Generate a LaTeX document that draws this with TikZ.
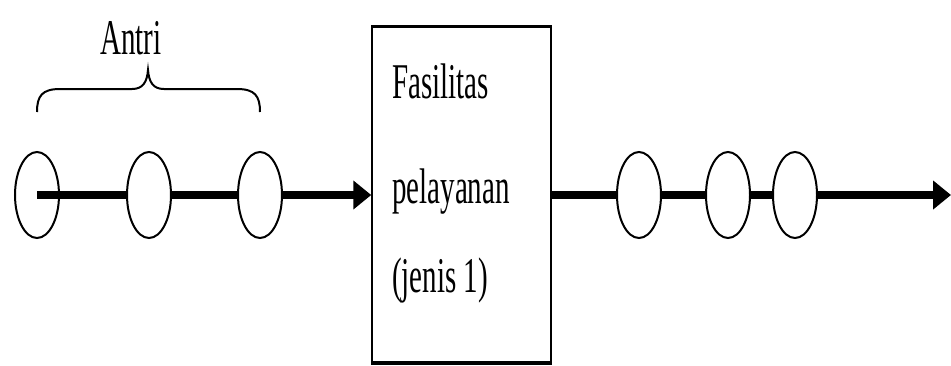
\documentclass[tikz,border=0pt]{standalone}
\usepackage{fontspec}
\setmainfont{Liberation Serif}
\usetikzlibrary{shapes.geometric,arrows.meta}
\tikzset{
  bead/.style={ellipse, draw=black, line width=2pt, fill=white, minimum width=44pt, minimum height=86pt, inner sep=0pt},
  flow/.style={line width=8pt, black},
  tip/.style={-{Triangle[length=18pt,width=28pt]}},
  lbl/.style={anchor=base west, inner sep=0pt, font=\fontsize{50}{50}\selectfont},
}
\newcommand{\sq}[1]{\scalebox{0.58}[1]{#1}}
\begin{document}
\begin{tikzpicture}[x=1pt,y=-1pt]
\useasboundingbox (0,0) rectangle (951,365);
% box
\node[draw=black, line width=1.5pt, minimum width=179pt, minimum height=335pt, inner sep=0pt] (box) at (461.5,194.5) {};
\draw[line width=3.5pt] (box.north west) -- (box.north east);
\draw[line width=3.5pt] (box.south west) -- (box.south east);
\node[lbl] (t1) at (392,98) {\sq{Fasilitas}};
\node[lbl] (t2) at (392,203) {\sq{pelayanan}};
\node[lbl] (t3) at (392,292) {\sq{(jenis 1)}};
% left queue
\node[bead, fill=none] (c1) at (37,195) {};
\node[bead] (c2) at (149,195) {};
\node[bead] (c3) at (260,195) {};
\draw[flow] (c1.center) -- (c2.west);
\draw[flow] (c2.east) -- (c3.west);
\draw[flow, tip] (c3.east) -- (box.west |- c3.east);
% brace
\draw[line width=2pt] (37,112) .. controls (37,96) and (42,89) .. (60,89) -- (132,89) .. controls (143,89) and (147,82) .. (148,70) .. controls (149,82) and (153,89) .. (164,89) -- (237,89) .. controls (255,89) and (260,96) .. (260,112);
\node[lbl] (antri) at (100,54) {\sq{Antri}};
% right queue
\node[bead] (d1) at (639,195) {};
\node[bead] (d2) at (728,195) {};
\node[bead] (d3) at (795,195) {};
\coordinate (out) at (951,195);
\draw[flow] (box.east |- d1.west) -- (d1.west);
\draw[flow] (d1.east) -- (d2.west);
\draw[flow] (d2.east) -- (d3.west);
\draw[flow, tip] (d3.east) -- (out);
\end{tikzpicture}
\end{document}
